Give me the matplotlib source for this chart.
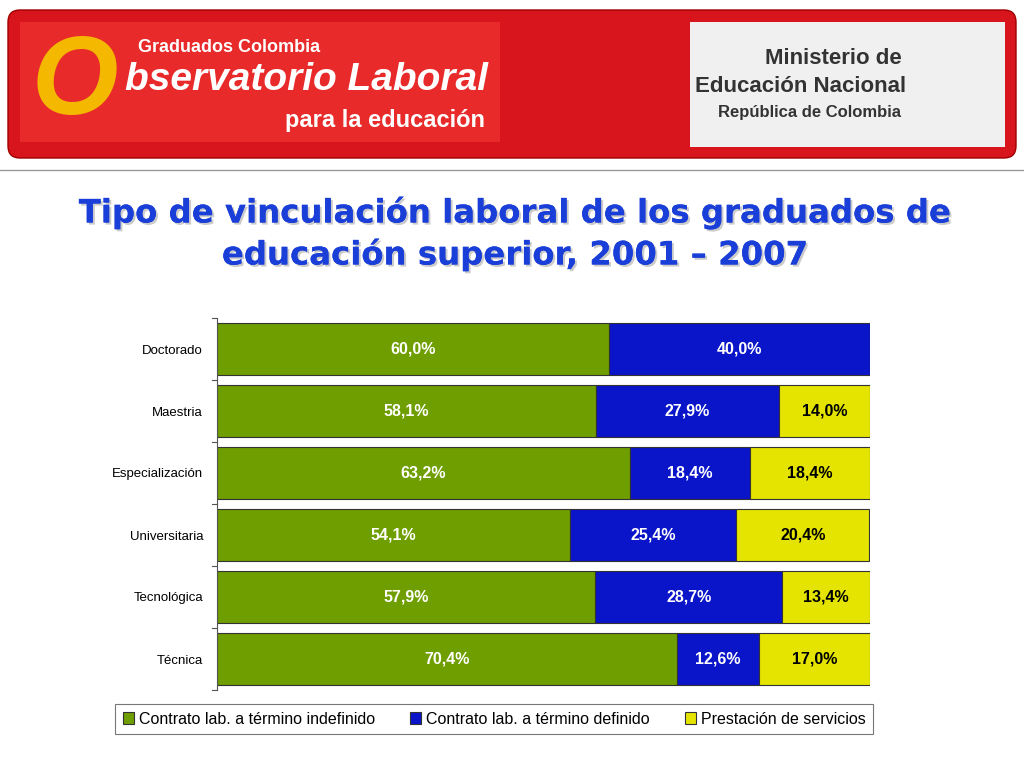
import matplotlib
matplotlib.use("Agg")
import matplotlib.pyplot as plt
import matplotlib.patheffects as pe
from matplotlib.patches import FancyBboxPatch, Rectangle

plt.rcParams["font.family"] = "Liberation Sans"

categories = ["Doctorado", "Maestria", "Especialización", "Universitaria", "Tecnológica", "Técnica"]
indefinido = [60.0, 58.1, 63.2, 54.1, 57.9, 70.4]
definido = [40.0, 27.9, 18.4, 25.4, 28.7, 12.6]
servicios = [0.0, 14.0, 18.4, 20.4, 13.4, 17.0]
series_names = ["Contrato lab. a término indefinido", "Contrato lab. a término definido", "Prestación de servicios"]
colors = ["#6f9e00", "#0a14c8", "#e4e400"]
text_colors = ["white", "white", "black"]

fig = plt.figure(figsize=(10.24, 7.68), dpi=100)

# Header banner
hb = fig.add_axes([0, 0, 1, 1], zorder=0)
hb.set_xlim(0, 1024); hb.set_ylim(768, 0); hb.axis("off")
hb.add_patch(FancyBboxPatch((8, 10), 1008, 148, boxstyle="round,pad=0,rounding_size=12",
                            fc="#d8141c", ec="#a00000"))
hb.add_patch(Rectangle((20, 22), 480, 120, fc="#e82a2a", ec="none"))
hb.add_patch(Rectangle((690, 22), 315, 125, fc="#f0f0f0", ec="none"))
hb.plot([0, 1024], [170, 170], color="#999999", lw=1)
hb.text(75, 85, "O", fontsize=80, color="#f5b800", fontweight="bold", ha="center", va="center", style="italic")
hb.text(138, 48, "Graduados Colombia", fontsize=13, color="white", fontweight="bold", va="center")
hb.text(125, 80, "bservatorio Laboral", fontsize=28, color="white", fontweight="bold", style="italic", va="center")
hb.text(285, 120, "para la educación", fontsize=17, color="white", fontweight="bold", va="center")
hb.text(765, 58, "Ministerio de", fontsize=16, color="#333333", fontweight="bold", va="center")
hb.text(695, 86, "Educación Nacional", fontsize=16, color="#333333", fontweight="bold", va="center")
hb.text(718, 112, "República de Colombia", fontsize=12, color="#333333", fontweight="bold", va="center")

# Title
shadow = [pe.withSimplePatchShadow(offset=(1.5, -1.5), shadow_rgbFace="#999999", alpha=0.5), pe.Normal()]
hb.text(515, 213, "Tipo de vinculación laboral de los graduados de", fontsize=23.3, color="#1a3ed8",
        fontweight="bold", ha="center", va="center", family="DejaVu Sans", path_effects=shadow)
hb.text(515, 255, "educación superior, 2001 – 2007", fontsize=23.3, color="#1a3ed8",
        fontweight="bold", ha="center", va="center", family="DejaVu Sans", path_effects=shadow)

ax = fig.add_axes([217/1024, 1-690/768, 653/1024, 372/768], zorder=1)
ax.patch.set_alpha(0)
y = list(range(len(categories)))
left = [0.0]*len(categories)
handles = []
for vals, c, tc, name in zip([indefinido, definido, servicios], colors, text_colors, series_names):
    b = ax.barh(y, vals, left=left, height=0.83, color=c, edgecolor="#333333", linewidth=0.8, label=name)
    handles.append(b)
    for yi, l, v in zip(y, left, vals):
        if v > 0:
            ax.text(l + v/2, yi, f"{v:.1f}%".replace(".", ","), ha="center", va="center",
                    color=tc, fontsize=11.5, fontweight="bold")
    left = [a + b_ for a, b_ in zip(left, vals)]
ax.set_xlim(0, 100)
ax.set_ylim(len(categories)-0.5, -0.5)
ax.set_yticks(y)
ax.set_yticklabels(categories, fontsize=9.5)
ax.set_xticks([])
for s in ["top", "right", "bottom"]:
    ax.spines[s].set_visible(False)
ax.spines["left"].set_color("#555555")
ax.tick_params(axis="y", length=0, pad=10)
for k in range(len(categories)+1):
    ax.plot([-0.8, 0], [k-0.5, k-0.5], color="#555555", lw=0.8, clip_on=False)

leg = fig.legend(handles=handles, loc="center", bbox_to_anchor=(494/1024, 1-719/768), ncol=3,
                 fontsize=11.5, frameon=True, fancybox=False, edgecolor="#555555",
                 handlelength=0.7, handleheight=0.7, handletextpad=0.3, columnspacing=2.2,
                 borderpad=0.5)
leg.get_frame().set_linewidth(0.8)

fig.savefig("out.png", dpi=100, facecolor="white")
